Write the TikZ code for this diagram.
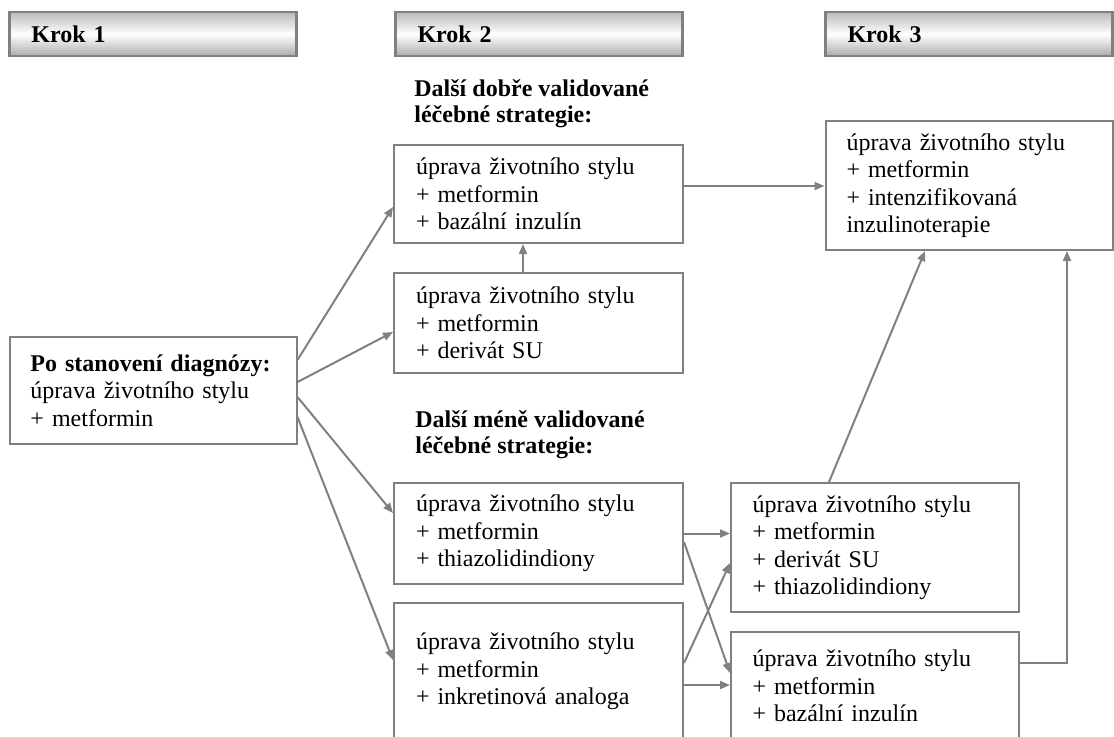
\documentclass[tikz,border=0pt]{standalone}
\usepackage{fontspec}
\setmainfont{Liberation Serif}
\usetikzlibrary{calc,arrows.meta}

\begin{document}
\begin{tikzpicture}[x=0.5pt,y=-0.5pt,shorten >=0pt,>={Triangle[length=5pt,width=4pt]}]
    \tikzstyle{box}=[draw=gray,line width=1pt,fill=white,minimum width=143.5pt,text width=122.5pt,inner xsep=10.5pt,inner ysep=0pt,align=left,font=\fontsize{12}{13.75}\selectfont]
    \tikzstyle{hdr}=[draw=gray,line width=1.1pt,top color=gray!55,bottom color=gray!65,middle color=white,minimum width=143.5pt,minimum height=22pt,text width=121.5pt,inner xsep=11pt,align=left,font=\fontsize{12}{14}\selectfont\bfseries]
    \tikzstyle{lbl}=[anchor=west,inner sep=0pt,align=left,font=\fontsize{12}{13}\selectfont\bfseries]
    \tikzstyle{link}=[draw=gray,line width=1pt,->]
    \clip (0,0) rectangle (1114,736);

    \foreach \num/\x in {1/153, 2/539, 3/969}
        \node[hdr] (krok-\num) at (\x,34) {Krok \num};

    \node[box,minimum height=53.5pt] (diag) at (153,390.5) {\textbf{Po stanovení diagnózy:}\\úprava životního stylu\\+ metformin};

    \node[lbl] (good) at (414,104) {Další dobře validované\\léčebné strategie:};
    \node[box,minimum width=144.5pt,minimum height=49pt] (b1) at (538.5,194) {úprava životního stylu\\+ metformin\\+ bazální inzulín};
    \node[box,minimum width=144.5pt,minimum height=50pt] (b2) at (538.5,323) {úprava životního stylu\\+ metformin\\+ derivát SU};

    \node[lbl] (less) at (415,435) {Další méně validované\\léčebné strategie:};
    \node[box,minimum width=144.5pt,minimum height=50.5pt] (b3) at (538.5,533.5) {úprava životního stylu\\+ metformin\\+ thiazolidindiony};
    \node[box,minimum width=144.5pt,minimum height=68.5pt] (b4) at (538.5,671.5) {úprava životního stylu\\+ metformin\\+ inkretinová analoga};

    \node[box,minimum height=64.5pt] (c1) at (969,185.5) {úprava životního stylu\\+ metformin\\+ intenzifikovaná\\inzulinoterapie};
    \node[box,minimum width=144pt,minimum height=64.5pt] (c2) at (875,547.5) {úprava životního stylu\\+ metformin\\+ derivát SU\\+ thiazolidindiony};
    \node[box,minimum width=144pt,minimum height=54pt] (c3) at (875,686) {úprava životního stylu\\+ metformin\\+ bazální inzulín};

    % krok 1 -> krok 2
    \draw[link] ($(diag.east)+(0,-30.5)$) -- ($(b1.west)+(0,13)$);
    \draw[link] ($(diag.east)+(0,-8.5)$) -- ($(b2.west)+(0,9)$);
    \draw[link] ($(diag.east)+(0,6.5)$) -- ($(b3.west)+(0,-20.5)$);
    \draw[link] ($(diag.east)+(0,26.5)$) -- ($(b4.west)+(0,-11.5)$);
    \draw[link] ($(b2.north)+(-15.5,0)$) -- ($(b1.south)+(-15.5,0)$);

    % krok 2 -> krok 3
    \draw[link] ($(b1.east)+(0,-8)$) -- ($(c1.west)+(0,0.5)$);
    \draw[link] (b3.east) -- ($(c2.west)+(0,-14)$);
    \draw[link] ($(b3.east)+(0,8.5)$) -- ($(c3.west)+(0,-13)$);
    \draw[link] ($(b4.east)+(0,-8.5)$) -- ($(c2.west)+(0,15.5)$);
    \draw[link] ($(b4.east)+(0,13.5)$) -- ($(c3.west)+(0,-1)$);
    \draw[link] ($(c2.north)+(-46,0)$) -- ($(c1.south)+(-44,0)$);
    \draw[link] ($(c3.east)+(0,-23)$) -| ($(c1.south)+(98,0)$);
\end{tikzpicture}
\end{document}
